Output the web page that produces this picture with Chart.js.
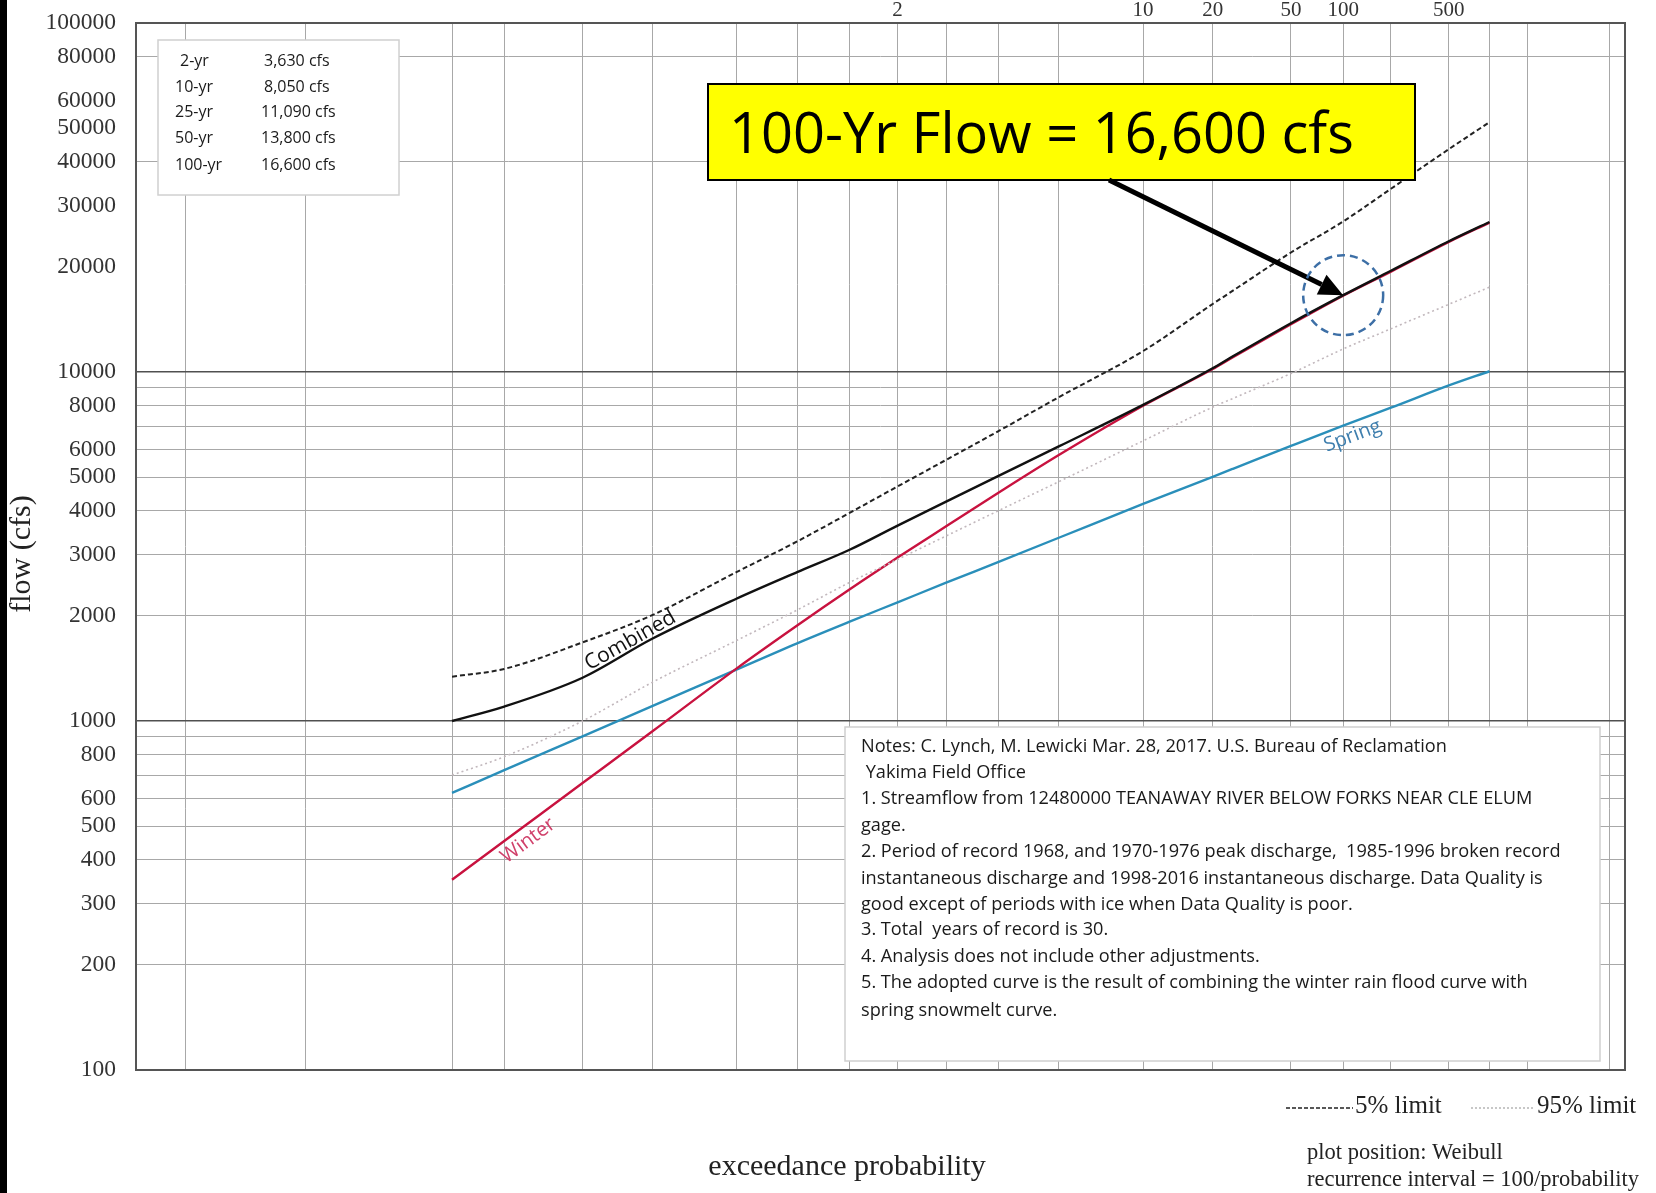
<!DOCTYPE html>
<html><head><meta charset="utf-8">
<script src="https://cdn.jsdelivr.net/npm/chart.js@4.4.1/dist/chart.umd.min.js"></script>
<style>
html,body{margin:0;padding:0;background:#fff;overflow:hidden}
#wrap{position:relative;width:1656px;height:1193px}
#bar{position:absolute;left:0;top:0;width:7px;height:1193px;background:#000}
canvas{display:block}
</style></head><body>
<div id="wrap"><canvas id="c" width="1656" height="1193"></canvas><div id="bar"></div></div>
<script>
// ---------------- DATA ----------------
// exceedance probability (%) at which each curve is read
const exceedanceProb = [99, 98, 95, 90, 80, 70, 60, 50, 40, 30, 20, 10, 5, 4, 2, 1, 0.5, 0.2, 0.1];
const combinedFlow = [1000, 1100, 1330, 1720, 2240, 2670, 3090, 3630, 4250, 5030, 6120, 8050, 10250, 11090, 13800, 16600, 19500, 23700, 26900];
const limit5Flow   = [1340, 1410, 1680, 2010, 2670, 3270, 3940, 4700, 5600, 6760, 8470, 11480, 15660, 17100, 22000, 27000, 33500, 43500, 52000];
const limit95Flow  = [700, 790, 1000, 1290, 1700, 2080, 2490, 2904, 3390, 4000, 4850, 6350, 7930, 8400, 9900, 11640, 13300, 15630, 17500];
const winterFlow   = [351, 453, 664, 933, 1413, 1878, 2377, 2940, 3614, 4500, 5780, 8000, 10200, 11030, 13700, 16550, 19400, 23600, 26800];
const springFlow   = [622, 723, 904, 1103, 1404, 1670, 1923, 2188, 2490, 2853, 3350, 4190, 5010, 5280, 6140, 7020, 7900, 9150, 10050];

// probability-paper grid lines (exceedance %)
const gridProb = [99.99, 99.9, 99, 98, 95, 90, 80, 70, 60, 50, 40, 30, 20, 10, 5, 2, 1, 0.5, 0.2, 0.1, 0.05, 0.01];
// recurrence interval labels on top (years)
const recurrenceTicks = [2, 10, 20, 50, 100, 500];
// y tick labels
const yLabels = [100, 200, 300, 400, 500, 600, 800, 1000, 2000, 3000, 4000, 5000, 6000, 8000, 10000, 20000, 30000, 40000, 50000, 60000, 80000, 100000];
// summary table
const tableLabels = ['2-yr', '10-yr', '25-yr', '50-yr', '100-yr'];
const tableValues = ['3,630 cfs', '8,050 cfs', '11,090 cfs', '13,800 cfs', '16,600 cfs'];
// highlighted design flow
const highlightProb = 1;
const highlightFlow = 16600;
const highlightText = '100-Yr Flow = 16,600 cfs';
const notesLines = [
 'Notes: C. Lynch, M. Lewicki Mar. 28, 2017. U.S. Bureau of Reclamation',
 ' Yakima Field Office',
 '1. Streamflow from 12480000 TEANAWAY RIVER BELOW FORKS NEAR CLE ELUM',
 'gage.',
 '2. Period of record 1968, and 1970-1976 peak discharge,  1985-1996 broken record',
 'instantaneous discharge and 1998-2016 instantaneous discharge. Data Quality is',
 'good except of periods with ice when Data Quality is poor.',
 '3. Total  years of record is 30.',
 '4. Analysis does not include other adjustments.',
 '5. The adopted curve is the result of combining the winter rain flood curve with',
 'spring snowmelt curve.'
];

// ---------------- helpers ----------------
function normInv(p){
  const a=[-3.969683028665376e+01,2.209460984245205e+02,-2.759285104469687e+02,1.383577518672690e+02,-3.066479806614716e+01,2.506628277459239e+00];
  const b=[-5.447609879822406e+01,1.615858368580409e+02,-1.556989798598866e+02,6.680131188771972e+01,-1.328068155288572e+01];
  const c=[-7.784894002430293e-03,-3.223964580411365e-01,-2.400758277161838e+00,-2.549732539343734e+00,4.374664141464968e+00,2.938163982698783e+00];
  const d=[7.784695709041462e-03,3.224671290700398e-01,2.445134137142996e+00,3.754408661907416e+00];
  const pl=0.02425, ph=1-pl; let q,r;
  if(p<pl){q=Math.sqrt(-2*Math.log(p));return (((((c[0]*q+c[1])*q+c[2])*q+c[3])*q+c[4])*q+c[5])/((((d[0]*q+d[1])*q+d[2])*q+d[3])*q+1);}
  if(p<=ph){q=p-0.5;r=q*q;return (((((a[0]*r+a[1])*r+a[2])*r+a[3])*r+a[4])*r+a[5])*q/(((((b[0]*r+b[1])*r+b[2])*r+b[3])*r+b[4])*r+1);}
  q=Math.sqrt(-2*Math.log(1-p));return -(((((c[0]*q+c[1])*q+c[2])*q+c[3])*q+c[4])*q+c[5])/((((d[0]*q+d[1])*q+d[2])*q+d[3])*q+1);
}
const zOf = pe => normInv(1 - pe/100);   // exceedance % -> standard normal variate
const pts = arr => arr.map((v,i)=>({x:zOf(exceedanceProb[i]), y:v}));
const X_MIN = zOf(99.9965), X_MAX = zOf(0.0073);

const SERIF = '"Liberation Serif", "DejaVu Serif", serif';
const SANS = '"Open Sans", "Noto Sans", sans-serif';

function fitFont(ctx, text, family, target, base){
  ctx.font = base+'px '+family;
  const w = ctx.measureText(text).width;
  return base*target/w;
}

function lineLabel(chart, dsIndex, i0, t, text, color, size, below, off){
  const ctx = chart.ctx;
  const meta = chart.getDatasetMeta(dsIndex);
  const a = meta.data[i0], b = meta.data[i0+1];
  const x = a.x + (b.x-a.x)*t, y = a.y + (b.y-a.y)*t;
  const ang = Math.atan2(b.y-a.y, b.x-a.x);
  ctx.save();
  ctx.translate(x,y); ctx.rotate(ang);
  ctx.font = size+'px '+SANS; ctx.fillStyle = color;
  ctx.textAlign='center';
  ctx.textBaseline = below ? 'top' : 'alphabetic';
  ctx.fillText(text, 0, below ? off : -off);
  ctx.restore();
}

const annot = {
  id:'annot',
  beforeDatasetsDraw(chart){
    const {ctx, chartArea:a} = chart;
    ctx.save(); ctx.strokeStyle='#555'; ctx.lineWidth=2;
    ctx.strokeRect(a.left, a.top, a.right-a.left, a.bottom-a.top);
    ctx.restore();
  },
  afterDatasetsDraw(chart){
    const {ctx, chartArea:a, scales} = chart;
    const xs = scales.x, ys = scales.y;
    ctx.save();
    // summary table box
    ctx.fillStyle='#fff'; ctx.fillRect(158,40,241,155);
    ctx.strokeStyle='#d0d0d0'; ctx.lineWidth=1.5; ctx.strokeRect(158,40,241,155);
    ctx.fillStyle='#1a1a1a'; ctx.font='16px '+SANS; ctx.textBaseline='middle'; ctx.textAlign='left';
    const rowY=[61,87,112,138,165];
    tableLabels.forEach((l,i)=>{ ctx.fillText(l, l.length===4?180:175, rowY[i]); ctx.fillText(tableValues[i], tableValues[i].length===9?264:261, rowY[i]); });

    // notes box
    ctx.fillStyle='#fff'; ctx.fillRect(845,727,755,334);
    ctx.strokeStyle='#cfcfcf'; ctx.lineWidth=1.5; ctx.strokeRect(845,727,755,334);
    const nSize = fitFont(ctx, notesLines[4], SANS, 700, 16);
    ctx.font = nSize+'px '+SANS; ctx.fillStyle='#1a1a1a'; ctx.textBaseline='middle';
    const nY=[747,773,799,826,852,879,905,930,957,983,1011];
    notesLines.forEach((l,i)=>ctx.fillText(l, 861, nY[i]));

    // highlight callout
    ctx.fillStyle='#ffff00'; ctx.fillRect(708,84,707,96);
    ctx.strokeStyle='#000'; ctx.lineWidth=2; ctx.strokeRect(708,84,707,96);
    const hSize = fitFont(ctx, highlightText, SANS, 625, 50);
    ctx.font = hSize+'px '+SANS; ctx.fillStyle='#000'; ctx.textBaseline='middle'; ctx.textAlign='left';
    ctx.fillText(highlightText, 729, 137);

    // arrow to the design point
    const px = xs.getPixelForValue(zOf(highlightProb)), py = ys.getPixelForValue(highlightFlow);
    const sx = 1109, sy = 180;
    const ang = Math.atan2(py-sy, px-sx);
    const headL = 24, headW = 11;
    const bx = px - Math.cos(ang)*headL, by = py - Math.sin(ang)*headL;
    ctx.strokeStyle='#000'; ctx.lineWidth=5; ctx.lineCap='butt';
    ctx.beginPath(); ctx.moveTo(sx,sy); ctx.lineTo(bx,by); ctx.stroke();
    ctx.fillStyle='#000'; ctx.beginPath();
    ctx.moveTo(px,py);
    ctx.lineTo(bx + Math.sin(ang)*headW, by - Math.cos(ang)*headW);
    ctx.lineTo(bx - Math.sin(ang)*headW, by + Math.cos(ang)*headW);
    ctx.closePath(); ctx.fill();
    // dashed circle
    ctx.strokeStyle='#3d6fa6'; ctx.lineWidth=2.5; ctx.setLineDash([8,5]);
    ctx.beginPath(); ctx.arc(px, py, 40, 0, Math.PI*2); ctx.stroke();
    ctx.setLineDash([]);
    ctx.restore();

    // curve labels
    lineLabel(chart, 0, 2, 0.75, 'Combined', '#111', 21, false, 3);
    lineLabel(chart, 3, 1, 0.2, 'Winter', '#d0406a', 20, true, 4);
    lineLabel(chart, 4, 15, 0.1, 'Spring', '#3f7fae', 20, true, 3);

    // axis titles & footnotes
    ctx.save();
    ctx.fillStyle='#222'; ctx.textAlign='center'; ctx.textBaseline='middle';
    ctx.font='30px '+SERIF; ctx.fillText('exceedance probability', 847, 1167);
    ctx.save(); ctx.translate(22, 554); ctx.rotate(-Math.PI/2);
    ctx.font='30px '+SERIF; ctx.fillText('flow (cfs)', 0, 0); ctx.restore();
    ctx.textAlign='left'; ctx.font='22.5px '+SERIF;
    ctx.fillText('plot position: Weibull', 1307, 1153);
    ctx.fillText('recurrence interval = 100/probability', 1307, 1180);
    // limit legend
    ctx.font='25px '+SERIF;
    ctx.strokeStyle='#222'; ctx.lineWidth=1.5; ctx.setLineDash([4,2]);
    ctx.beginPath(); ctx.moveTo(1286,1108); ctx.lineTo(1353,1108); ctx.stroke();
    ctx.fillText('5% limit', 1355, 1106);
    ctx.strokeStyle='#b5b5b5'; ctx.setLineDash([2,2]);
    ctx.beginPath(); ctx.moveTo(1471,1108); ctx.lineTo(1535,1108); ctx.stroke();
    ctx.setLineDash([]);
    ctx.fillText('95% limit', 1537, 1106);
    ctx.restore();
  }
};

const yGridColor = c => {
  const v = c.tick && c.tick.value;
  if (v === 1000 || v === 10000) return '#505050';
  if (v > 10000 && v < 100000 && v !== 40000 && v !== 80000) return 'rgba(0,0,0,0)';
  return '#a8a8a8';
};

new Chart(document.getElementById('c'), {
  type: 'line',
  data: {
    datasets: [
      {label:'Combined', data: pts(combinedFlow), borderColor:'#111', borderWidth:2.4, pointRadius:0, cubicInterpolationMode:'monotone'},
      {label:'5% limit', data: pts(limit5Flow), borderColor:'#222', borderWidth:2, borderDash:[5,3], pointRadius:0, cubicInterpolationMode:'monotone'},
      {label:'95% limit', data: pts(limit95Flow), borderColor:'#c2b8bd', borderWidth:1.6, borderDash:[2,3], pointRadius:0, cubicInterpolationMode:'monotone'},
      {label:'Winter', data: pts(winterFlow), borderColor:'#c8123f', borderWidth:2.4, pointRadius:0, cubicInterpolationMode:'monotone'},
      {label:'Spring', data: pts(springFlow), borderColor:'#2a8fba', borderWidth:2.4, pointRadius:0, cubicInterpolationMode:'monotone'}
    ]
  },
  options: {
    responsive:false, animation:false, devicePixelRatio:1,
    layout:{padding:{left:0, right:31, top:0, bottom:0}},
    plugins:{legend:{display:false}, tooltip:{enabled:false}},
    scales:{
      x:{type:'linear', position:'bottom', min:X_MIN, max:X_MAX,
         afterBuildTicks(s){ s.ticks = gridProb.map(p=>({value:zOf(p)})); },
         afterFit(s){ s.height = 123; },
         ticks:{display:false},
         grid:{color:'#a8a8a8', lineWidth:1, drawTicks:false},
         border:{display:false}},
      xTop:{type:'linear', position:'top', min:X_MIN, max:X_MAX,
         afterBuildTicks(s){ s.ticks = recurrenceTicks.map(T=>({value:zOf(100/T)})); },
         afterFit(s){ s.height = 23; },
         ticks:{autoSkip:false, maxRotation:0, padding:0, color:'#333', font:{family:SERIF, size:21},
                callback:(v,i)=>String(recurrenceTicks[i])},
         grid:{display:false, drawTicks:false}, border:{display:false}},
      y:{type:'logarithmic', min:100, max:100000,
         afterBuildTicks(s){
           const t=[]; for(let d=100; d<=10000; d*=10){ for(let m=1;m<=9;m++) t.push({value:m*d}); }
           t.push({value:100000}); s.ticks=t;
         },
         afterFit(s){ s.width = 136; s.paddingTop = 14; s.paddingBottom = 14; },
         ticks:{autoSkip:false, padding:20, color:'#333', font:{family:SERIF, size:23.5},
                callback:v=> yLabels.includes(v) ? String(v) : ''},
         grid:{color:yGridColor, lineWidth:c=> (c.tick && (c.tick.value===1000||c.tick.value===10000)) ? 1.6 : 1, drawTicks:false},
         border:{display:false}}
    }
  },
  plugins:[annot]
});
</script>
</body></html>
